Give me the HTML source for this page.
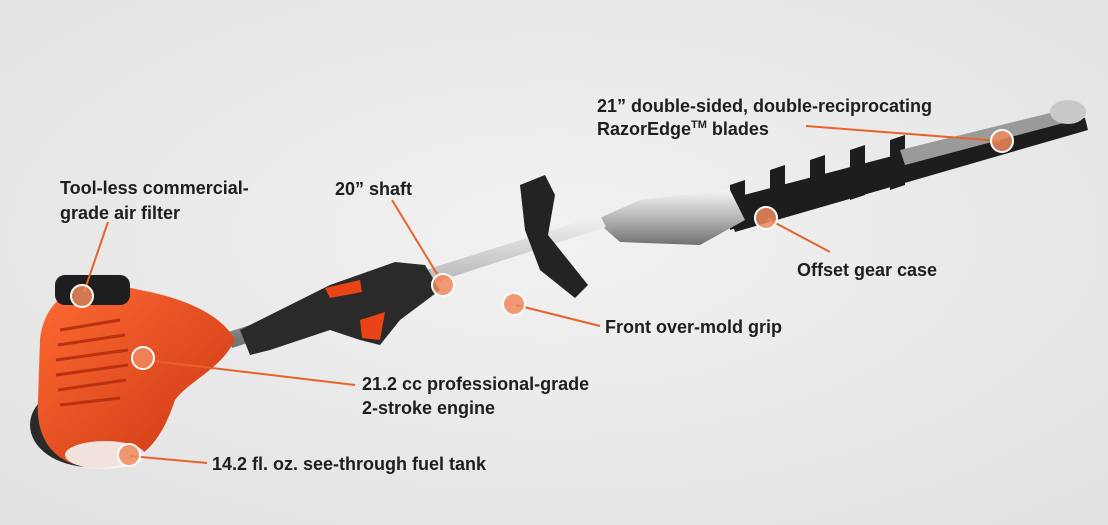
<!DOCTYPE html>
<html><head><meta charset="utf-8"><style>
html,body{margin:0;padding:0;}
body{width:1108px;height:525px;overflow:hidden;background:#ebebeb;}
svg{display:block;}
text{font-family:"Liberation Sans",Arial,sans-serif;font-weight:bold;font-size:18px;fill:#1e1e1e;}
</style></head><body>
<svg width="1108" height="525" viewBox="0 0 1108 525" xmlns="http://www.w3.org/2000/svg">
<defs>
<radialGradient id="bg" cx="50%" cy="45%" r="70%"><stop offset="0" stop-color="#f2f2f2"/><stop offset="1" stop-color="#e2e2e2"/></radialGradient>
<linearGradient id="sh" x1="0" y1="0" x2="0" y2="1"><stop offset="0" stop-color="#f4f4f4"/><stop offset="0.5" stop-color="#b8b8b8"/><stop offset="1" stop-color="#707070"/></linearGradient>
<linearGradient id="org" x1="0" y1="0" x2="1" y2="1"><stop offset="0" stop-color="#ff6a33"/><stop offset="1" stop-color="#c83612"/></linearGradient>
</defs>
<rect width="1108" height="525" fill="url(#bg)"/>
<polygon points="725,200 1060,112 1085,118 1088,130 735,232" fill="#1d1d1d"/>
<g fill="#1d1d1d">
<polygon points="730,185 745,180 745,225 730,230"/><polygon points="770,170 785,165 785,215 770,220"/><polygon points="810,160 825,155 825,205 810,210"/><polygon points="850,150 865,145 865,195 850,200"/><polygon points="890,140 905,135 905,185 890,190"/>
</g>
<polygon points="900,150 1070,108 1075,120 905,165" fill="#9a9a9a"/>
<ellipse cx="1068" cy="112" rx="18" ry="12" fill="#c9c9c9"/>
<polygon points="595,220 640,200 730,190 745,220 700,245 620,242" fill="url(#sh)"/>
<polygon points="228,332 600,215 606,227 232,348" fill="url(#sh)"/>
<polygon points="520,185 545,175 555,195 548,235 588,285 575,298 540,270 525,230" fill="#232323"/>
<polygon points="240,330 330,285 395,262 425,265 440,290 400,320 380,345 360,340 330,330 270,350 250,355" fill="#2a2a2a"/>
<polygon points="325,288 360,280 362,292 330,298" fill="#e84418"/>
<polygon points="360,320 385,312 380,340 362,338" fill="#e84418"/>
<ellipse cx="90" cy="425" rx="60" ry="42" fill="#2a2a2a"/>
<path d="M40,340 C45,295 80,275 140,290 C195,300 225,320 235,340 C220,370 190,380 175,400 C160,445 140,465 100,468 C55,468 35,440 38,400 Z" fill="url(#org)"/>
<rect x="55" y="275" width="75" height="30" rx="10" fill="#1e1e1e"/>
<ellipse cx="105" cy="455" rx="40" ry="14" fill="#f3f3f3" opacity="0.9"/>
<g stroke="#b83210" stroke-width="3">
<line x1="60" y1="330" x2="120" y2="320"/><line x1="58" y1="345" x2="125" y2="335"/><line x1="56" y1="360" x2="128" y2="350"/><line x1="56" y1="375" x2="128" y2="365"/><line x1="58" y1="390" x2="126" y2="380"/><line x1="60" y1="405" x2="120" y2="398"/>
</g>
<g stroke="#e8622a" stroke-width="2" fill="none">
<line x1="108" y1="222" x2="84" y2="292"/>
<line x1="392" y1="200" x2="442" y2="282"/>
<line x1="1000" y1="141" x2="806" y2="126"/>
<line x1="768" y1="219" x2="830" y2="252"/>
<line x1="516" y1="305" x2="600" y2="326"/>
<line x1="145" y1="360" x2="355" y2="385"/>
<line x1="130" y1="456" x2="207" y2="463"/>
</g>
<g fill="#f08a5d" fill-opacity="0.85" stroke="#fff" stroke-width="2">
<circle cx="82" cy="296" r="11"/><circle cx="143" cy="358" r="11"/><circle cx="129" cy="455" r="11"/>
<circle cx="443" cy="285" r="11"/><circle cx="514" cy="304" r="11"/><circle cx="766" cy="218" r="11"/><circle cx="1002" cy="141" r="11"/>
</g>
<text x="60" y="194">Tool-less commercial-</text>
<text x="60" y="219">grade air filter</text>
<text x="335" y="195">20” shaft</text>
<text x="597" y="112">21” double-sided, double-reciprocating</text>
<text x="597" y="135">RazorEdge<tspan font-size="11" dy="-7">TM</tspan><tspan dy="7"> blades</tspan></text>
<text x="797" y="276">Offset gear case</text>
<text x="605" y="333">Front over-mold grip</text>
<text x="362" y="390">21.2 cc professional-grade</text>
<text x="362" y="414">2-stroke engine</text>
<text x="212" y="470">14.2 fl. oz. see-through fuel tank</text>
</svg>
</body></html>
